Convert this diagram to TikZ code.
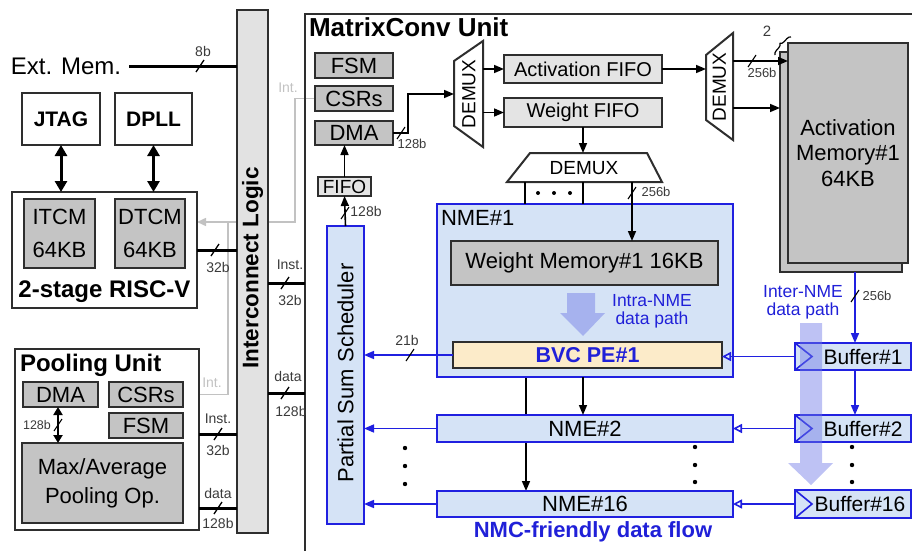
\documentclass[tikz,border=0pt]{standalone}
\usepackage{fontspec}
\setmainfont{Liberation Sans}
\usetikzlibrary{arrows.meta,decorations.pathreplacing}
\pgfdeclarelayer{bg}
\pgfsetlayers{bg,main}
\definecolor{bord}{HTML}{2E2E2E}
\definecolor{boxgray}{HTML}{C4C4C4}
\definecolor{fifogray}{HTML}{E4E4E4}
\definecolor{ilgray}{HTML}{E2E2E2}
\definecolor{bblue}{HTML}{2020E0}
\definecolor{lblue}{HTML}{D5E3F6}
\definecolor{btext}{HTML}{2020D8}
\definecolor{bvcfill}{HTML}{FCEBC9}
\definecolor{intg}{HTML}{C2C2C2}
\definecolor{labc}{HTML}{3A3A3A}
\definecolor{arrc}{HTML}{6E78E6}
\newcommand\fsz[2]{\fontsize{#1}{#2}\selectfont}
\newcommand\busmark[3][1.3pt]{\draw[line width=#1] (#2-4,#3+6) -- (#2+4,#3-6);}
\begin{document}
\begin{tikzpicture}[x=1pt,y=-1pt,
  every node/.style={inner sep=0pt, outer sep=0pt},
  box/.style={draw=bord, line width=2pt, fill=white},
  gbox/.style={draw=bord, line width=2pt, fill=boxgray},
  fbox/.style={draw=bord, line width=2pt, fill=fifogray},
  bbox/.style={draw=bblue, line width=2pt, fill=lblue},
  arr/.style={line width=1.6pt, -{Triangle[length=10pt,width=8pt]}},
  barr/.style={draw=bblue, line width=1.6pt, -{Triangle[length=10pt,width=8pt]}},
  oarr/.style={draw=bblue, line width=1.6pt, -{Triangle[open,length=9pt,width=9pt]}},
  darr/.style={line width=3pt, {Triangle[length=11pt,width=12pt]}-{Triangle[length=11pt,width=12pt]}},
  sdarr/.style={line width=2pt, {Triangle[length=8pt,width=9pt]}-{Triangle[length=8pt,width=9pt]}},
  bus/.style={line width=3pt},
  lab/.style={text=labc, font=\fsz{14}{16}},
  slab/.style={text=labc, font=\fsz{13}{15}},
  intl/.style={draw=intg, line width=1.5pt},
  btxt/.style={text=btext, align=center, font=\fsz{17.5}{18}},
  dot/.style={fill=black},
]
\useasboundingbox (0,0) rectangle (912,551);

% ---------------- left side ----------------
\node[font=\fsz{24}{28}] (extmem) at (66,66) {Ext. Mem.};
\node[box, fill=ilgray, minimum width=31pt, minimum height=523pt] (il) at (252.5,271.5) {};
\node[rotate=90, font=\bfseries\fsz{22.5}{26}] (illab) at (252.5,268) {Interconnect Logic};
\draw[bus] ([xshift=8pt]extmem.east) -- (extmem.east -| il.west);
\busmark{200}{66}
\node[lab] at (203,51) {8b};

\node[box, line width=2.5pt, minimum width=78pt, minimum height=52pt, font=\bfseries\fsz{21}{24}] (jtag) at (61,119) {JTAG};
\node[box, line width=2.5pt, minimum width=77pt, minimum height=52pt, font=\bfseries\fsz{21}{24}] (dpll) at (153.5,119) {DPLL};
\node[box, line width=2.5pt, minimum width=185pt, minimum height=116pt] (riscv) at (104.5,250) {};
\node[font=\bfseries\fsz{24}{28}] (rvlab) at (104.5,292) {2-stage RISC-V};
\node[gbox, minimum width=71pt, minimum height=69pt, align=center, font=\fsz{22}{33}] (itcm) at (59.5,233.5) {ITCM\\64KB};
\node[gbox, minimum width=70pt, minimum height=69pt, align=center, font=\fsz{22}{33}] (dtcm) at (150,233.5) {DTCM\\64KB};
\draw[darr] (jtag.south) -- (jtag.south |- riscv.north);
\draw[darr] (dpll.south) -- (dpll.south |- riscv.north);
\draw[bus] (riscv.east) -- (riscv.east -| il.west);
\busmark{215}{250}
\node[lab] at (218,267) {32b};

\node[box, line width=2.5pt, minimum width=184pt, minimum height=181pt] (pool) at (107,439.5) {};
\node[font=\bfseries\fsz{24}{28}, anchor=west] (pooltitle) at (20,365) {Pooling Unit};
\node[gbox, minimum width=75pt, minimum height=25pt, font=\fsz{22}{26}] (pdma) at (60.5,394.5) {DMA};
\node[gbox, minimum width=74pt, minimum height=25pt, font=\fsz{22}{26}] (pcsr) at (146,394.5) {CSRs};
\node[gbox, minimum width=74pt, minimum height=25pt, font=\fsz{22}{26}] (pfsm) at (146,425.5) {FSM};
\node[gbox, minimum width=161pt, minimum height=80pt, align=center, font=\fsz{22}{29}] (maxavg) at (102.5,483) {Max/Average\\Pooling Op.};
\draw[sdarr] ([xshift=-2.5pt]pdma.south) -- ([xshift=-2.5pt]pdma.south |- maxavg.north);
\busmark[1.1pt]{58}{425}
\node[slab, font=\fsz{12.5}{14}] at (37,425) {128b};
\draw[bus] ([yshift=5.5pt]pool.east) -- ([yshift=5.5pt]pool.east -| il.west);
\busmark{218}{434}
\node[lab] at (218,419) {Inst.};
\node[lab] at (218,450) {32b};
\draw[bus] ([yshift=-68.5pt]pool.east) -- ([yshift=-68.5pt]pool.east -| il.west);
\busmark{218}{508}
\node[lab] at (218,493) {data};
\node[lab] at (218,523) {128b};

% ---------------- MatrixConv unit ----------------
\draw[draw=bord, line width=2pt] (305,551) -- (305,14) -- (912,14);
\node[font=\bfseries\fsz{26}{30}, anchor=west] (mctitle) at (309,27) {MatrixConv Unit};
\coordinate (mcl1) at (305,283);
\coordinate (mcl2) at (305,393);
\draw[bus] (il.east |- mcl1) -- (mcl1);
\busmark{285}{283}
\node[lab] at (290,265) {Inst.};
\node[lab] at (290,300) {32b};
\draw[bus] (il.east |- mcl2) -- (mcl2);
\busmark{285}{393}
\node[lab] at (288,376) {data};
\node[lab] at (291,411) {128b};

\node[gbox, minimum width=78pt, minimum height=25pt, font=\fsz{22}{26}] (mfsm) at (354,65.5) {FSM};
\node[gbox, minimum width=78pt, minimum height=25pt, font=\fsz{22}{26}] (mcsr) at (354,98.5) {CSRs};
\node[gbox, minimum width=78pt, minimum height=24pt, font=\fsz{22}{26}] (mdma) at (354,133) {DMA};
\node[fbox, minimum width=53pt, minimum height=19pt, font=\fsz{19}{22}] (mfifo) at (344.5,186.5) {FIFO};
\node[bbox, minimum width=37pt, minimum height=298pt] (pss) at (345.5,375) {};
\node[rotate=90, font=\fsz{22}{26}] (psslab) at (345.5,373) {Partial Sum Scheduler};
\draw[arr] (mfifo.north) -- (mfifo.north |- mdma.south);
\draw[arr] (pss.north) -- (mfifo.south);
\busmark[1.1pt]{345}{213}
\node[lab] at (366,211) {128b};

% Int. gray lines
\node[text=intg, font=\fsz{14}{16}] (int1) at (288,88) {Int.};
\node[text=intg, font=\fsz{14}{16}] (int2) at (212,383) {Int.};
\coordinate (intj) at (295,222);
\coordinate (intk) at (228,222);
\begin{pgfonlayer}{bg}
\draw[intl, -{Triangle[length=9pt,width=8pt]}] (mcsr.west) -| (intj) -- (riscv.east |- intj);
\draw[intl] (pcsr.east) -| (intk);
\end{pgfonlayer}

% DEMUX 1
\draw[draw=bord, line width=2pt, fill=white] (454,61) -- (483,41) -- (483,147) -- (454,126) -- cycle;
\node[rotate=90, font=\fsz{19}{22}] (dmx1) at (469,94) {DEMUX};
\coordinate (d1in) at (454,94);
\coordinate (d1o1) at (483,69);
\coordinate (d1o2) at (483,112.5);
\draw[arr] (mdma.east) -- ++(15,0) |- (d1in);
\busmark[1.1pt]{401}{133}
\node[slab] at (412,144) {128b};

\node[fbox, minimum width=158pt, minimum height=28pt, font=\fsz{20}{24}] (afifo) at (583,69) {Activation FIFO};
\node[fbox, minimum width=158pt, minimum height=29pt, font=\fsz{20}{24}] (wfifo) at (583,112.5) {Weight FIFO};
\draw[arr] (d1o1) -- (afifo.west);
\draw[arr] (d1o2) -- (wfifo.west);

% DEMUX 2
\draw[draw=bord, line width=2pt, fill=white] (706,55) -- (733,33) -- (733,140) -- (706,120) -- cycle;
\node[rotate=90, font=\fsz{19}{22}] (dmx2) at (719.5,87) {DEMUX};
\coordinate (d2in) at (706,69);
\coordinate (d2o1) at (733,61);
\coordinate (d2o2) at (733,108);
\draw[arr] (afifo.east) -- (d2in);

% Activation memory (2 stacked)
\node[gbox, line width=1.8pt, minimum width=122pt, minimum height=220pt] (amemb) at (841,162) {};
\node[gbox, line width=1.8pt, minimum width=120pt, minimum height=220pt, align=center, font=\fsz{22}{25.5}] (amem) at (848,153) {Activation\\Memory\#1\\64KB};
\draw[arr] (d2o1) -- (d2o1 -| amem.west);
\draw[arr] (d2o2) -- (d2o2 -| amemb.west);
\busmark[1.1pt]{752}{61}
\node[slab] at (762,73) {256b};
\node[text=labc, font=\fsz{15}{17}] (two) at (767,31) {2};
\draw[line width=1.2pt, decorate, decoration={brace, amplitude=4pt}] (775,55) -- (791,37);

% DEMUX 3
\draw[draw=bord, line width=2pt, fill=white] (530,153) -- (647,153) -- (662,182) -- (507,182) -- cycle;
\node[font=\fsz{19}{22}] (dmx3) at (584,168) {DEMUX};
\coordinate (d3in) at (583,153);
\coordinate (d3o1) at (525,182);
\coordinate (d3o2) at (583,182);
\coordinate (d3o3) at (632,182);
\draw[arr] (wfifo.south -| d3in) -- (d3in);

% NME#1
\node[bbox, minimum width=296pt, minimum height=173pt] (nme1) at (585,290.5) {};
\node[font=\fsz{22}{26}, anchor=west] (nme1lab) at (441,218) {NME\#1};
\draw[line width=1.6pt] (d3o1) -- (d3o1 |- nme1.north);
\draw[line width=1.6pt] (d3o2) -- (d3o2 |- nme1.north);
\fill[dot] (538,193) circle (2pt) (554,193) circle (2pt) (570,193) circle (2pt);
\node[gbox, minimum width=267pt, minimum height=44pt, font=\fsz{22}{26}] (wm) at (584.5,263) {Weight Memory\#1 16KB};
\draw[arr] (d3o3) -- (d3o3 |- wm.north);
\busmark[1.1pt]{632}{193}
\node[slab] at (656,192) {256b};
\fill[arrc, opacity=0.45] (567,293) -- (595,293) -- (595,313) -- (605,313) -- (583,336) -- (560,313) -- (567,313) -- cycle;
\node[btxt] (intra) at (652,311) {Intra-NME\\data path};
\node[draw=bord, line width=2pt, fill=bvcfill, minimum width=269pt, minimum height=26pt, text=btext, font=\bfseries\fsz{21.5}{24}] (bvc) at (587.5,355) {BVC PE\#1};
\draw[barr] (bvc.west) -- (bvc.west -| pss.east);
\busmark[1.1pt]{410}{355}
\node[lab] at (407,340) {21b};

% NME#2, NME#16
\node[bbox, minimum width=296pt, minimum height=27pt, font=\fsz{22}{26}] (nme2) at (585,428.5) {NME\#2};
\node[bbox, minimum width=296pt, minimum height=26pt, font=\fsz{22}{26}] (nme16) at (585,504) {NME\#16};
\begin{pgfonlayer}{bg}
\draw[arr] ([xshift=-59pt]nme1.south) -- ([xshift=-59pt]nme1.south |- nme16.north);
\end{pgfonlayer}
\draw[arr] ([xshift=-2pt]nme1.south) -- ([xshift=-2pt]nme2.north);
\draw[barr] (nme2.west) -- (nme2.west -| pss.east);
\draw[barr] (nme16.west) -- (nme16.west -| pss.east);
\fill[dot] (405,448) circle (2.2pt) (405,466) circle (2.2pt) (405,484) circle (2.2pt);
\fill[dot] (695,447) circle (2.2pt) (695,465) circle (2.2pt) (695,482) circle (2.2pt);
\fill[dot] (852,447) circle (2.2pt) (852,465) circle (2.2pt) (852,482) circle (2.2pt);
\node[text=btext, font=\bfseries\fsz{22}{26}] (nmcflow) at (593,532) {NMC-friendly data flow};

% Buffers
\node[bbox, minimum width=116pt, minimum height=27pt, font=\fsz{21}{24}] (buf1) at (853,356.5) {\hspace*{20pt}Buffer\#1};
\node[bbox, minimum width=116pt, minimum height=27pt, font=\fsz{21}{24}] (buf2) at (853,428.5) {\hspace*{20pt}Buffer\#2};
\node[bbox, minimum width=116pt, minimum height=28pt, font=\fsz{21}{24}] (buf16) at (853,504) {\hspace*{14pt}Buffer\#16};
\foreach \b in {buf1,buf2,buf16}{
  \draw[draw=bblue, line width=1.6pt] (\b.north west) -- ([xshift=17pt]\b.west) -- (\b.south west);
}
\draw[barr] ([xshift=14pt]amemb.south) -- ([xshift=14pt]amemb.south |- buf1.north);
\busmark[1.1pt]{855}{296}
\node[slab] at (877,296) {256b};
\draw[barr] ([xshift=2pt]buf1.south) -- ([xshift=2pt]buf2.north);
\node[btxt] (inter) at (803,302) {Inter-NME\\data path};
\draw[oarr] (buf1.west) -- (buf1.west -| bvc.east);
\draw[oarr] (buf2.west) -- (buf2.west -| nme2.east);
\draw[oarr] (buf16.west) -- (buf16.west -| nme16.east);
\fill[arrc, opacity=0.45] (800,323) -- (822,323) -- (822,463) -- (833,463) -- (811,485) -- (788,463) -- (800,463) -- cycle;
\end{tikzpicture}
\end{document}
